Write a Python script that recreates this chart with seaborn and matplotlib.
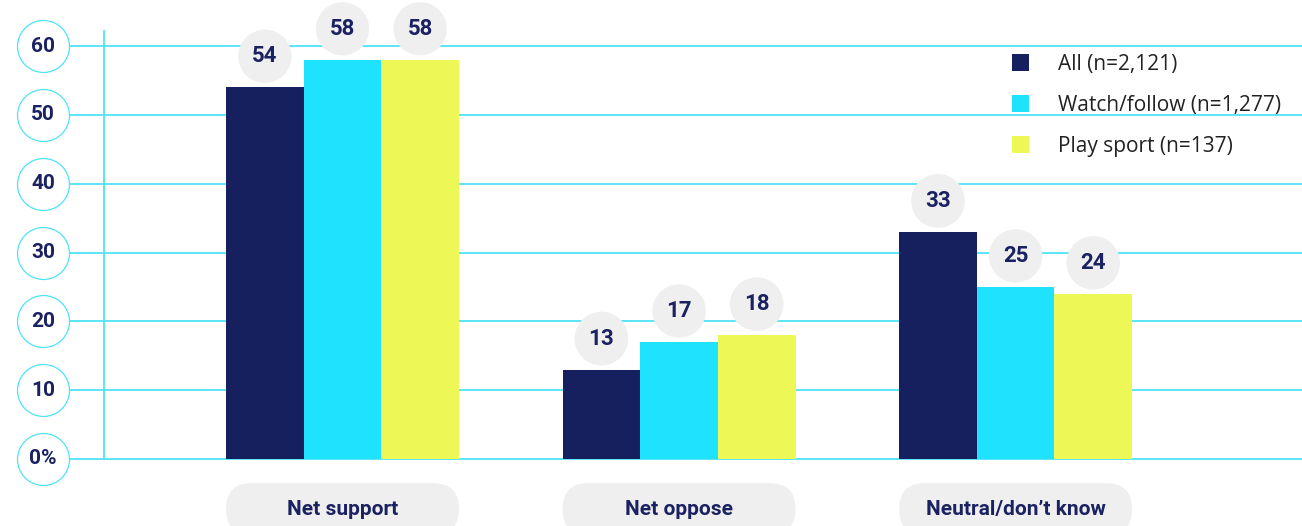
import matplotlib
matplotlib.use("Agg")
import matplotlib.pyplot as plt
import matplotlib.transforms as mtransforms
from matplotlib.patches import FancyBboxPatch
import pandas as pd
import seaborn as sns

# Survey results (% of respondents)
categories = ["Net support", "Net oppose", "Neutral/don’t know"]
groups = ["All (n=2,121)", "Watch/follow (n=1,277)", "Play sport (n=137)"]
all_values = [54, 13, 33]
watch_values = [58, 17, 25]
play_values = [58, 18, 24]
y_ticks = [0, 10, 20, 30, 40, 50, 60]
y_tick_labels = ["0%", "10", "20", "30", "40", "50", "60"]

NAVY = "#16205f"
CYAN = "#1fe2ff"
YELLOW = "#edf857"
GRID = "#4fe3f7"
PILL = "#efefef"
TEXT = "#1b2262"

df = pd.DataFrame({
    "category": categories * len(groups),
    "group": [g for g in groups for _ in categories],
    "value": all_values + watch_values + play_values,
})

sns.set_theme(style="white")
plt.rcParams["font.family"] = ["Roboto", "DejaVu Sans"]

W, H = 1302, 526
fig = plt.figure(figsize=(W / 100, H / 100), dpi=100)
ax = fig.add_axes([104 / W, (H - 459) / H, (W - 104) / W, 428 / H])

sns.barplot(data=df, x="category", y="value", hue="group",
            order=categories, hue_order=groups,
            palette=[NAVY, CYAN, YELLOW], saturation=1,
            width=0.692, gap=0, linewidth=0, ax=ax, zorder=3)

ax.set_xlim(-0.7088, 2.851)
ax.set_ylim(0, 62.18)
ax.set_xticks([])
ax.set_yticks([])
ax.set_xlabel("")
ax.set_ylabel("")
for side in ["top", "right", "bottom"]:
    ax.spines[side].set_visible(False)
ax.spines["left"].set_color(GRID)
ax.spines["left"].set_linewidth(1.3)

# Horizontal grid lines with circled tick labels on the left
trans = mtransforms.blended_transform_factory(ax.transAxes, ax.transData)
x_circle = (43 - 104) / (W - 104)
for t in y_ticks:
    ax.plot([x_circle, 1], [t, t], transform=trans, color=GRID, lw=1.3,
            zorder=1, clip_on=False)
ax.scatter([x_circle] * len(y_ticks), y_ticks, transform=trans, s=1400,
           facecolor="white", edgecolor=GRID, linewidth=0.9, zorder=4,
           clip_on=False)
for t, lab in zip(y_ticks, y_tick_labels):
    ax.text(x_circle, t, lab, transform=trans, ha="center", va="center",
            fontsize=15, fontweight="bold", color=TEXT, zorder=5)

# Value bubbles above each bar
for container in ax.containers:
    for bar, val in zip(container, container.datavalues):
        cx = bar.get_x() + bar.get_width() / 2
        ax.annotate(f"{val:g}", xy=(cx, val), xytext=(0, 22.3),
                    textcoords="offset points", ha="center", va="center",
                    fontsize=16, fontweight="bold", color=TEXT,
                    bbox=dict(boxstyle="circle,pad=0.63", fc=PILL, ec="none"),
                    zorder=6, annotation_clip=False)

# Category labels inside rounded pills under each group
base_y = ax.transData.transform((0, 0))[1]
for i, cat in enumerate(categories):
    bars = [c[i] for c in ax.containers]
    left = min(b.get_x() for b in bars)
    right = max(b.get_x() + b.get_width() for b in bars)
    x0 = ax.transData.transform((left, 0))[0]
    x1 = ax.transData.transform((right, 0))[0]
    pill = FancyBboxPatch((x0, base_y - 24 - 52), x1 - x0, 52,
                          boxstyle="round,pad=0,rounding_size=26",
                          transform=mtransforms.IdentityTransform(),
                          fc=PILL, ec="none", zorder=2, clip_on=False)
    ax.add_artist(pill)
    ax.annotate(cat, xy=((left + right) / 2, 0), xytext=(0, -36.7),
                textcoords="offset points", ha="center", va="center",
                fontsize=15, fontweight="bold", color=TEXT, zorder=5,
                annotation_clip=False)

handles, labels = ax.get_legend_handles_labels()
ax.legend(handles, labels, loc="upper left",
          bbox_to_anchor=(1012 / W, 1 - 54 / H), bbox_transform=fig.transFigure,
          frameon=False, prop=dict(family=["Open Sans", "DejaVu Sans"], size=15),
          handlelength=0.816, handleheight=0.878, handletextpad=1.39,
          labelspacing=0.955, borderpad=0, borderaxespad=0, labelcolor="#222222")

fig.savefig("out.png", dpi=100)
